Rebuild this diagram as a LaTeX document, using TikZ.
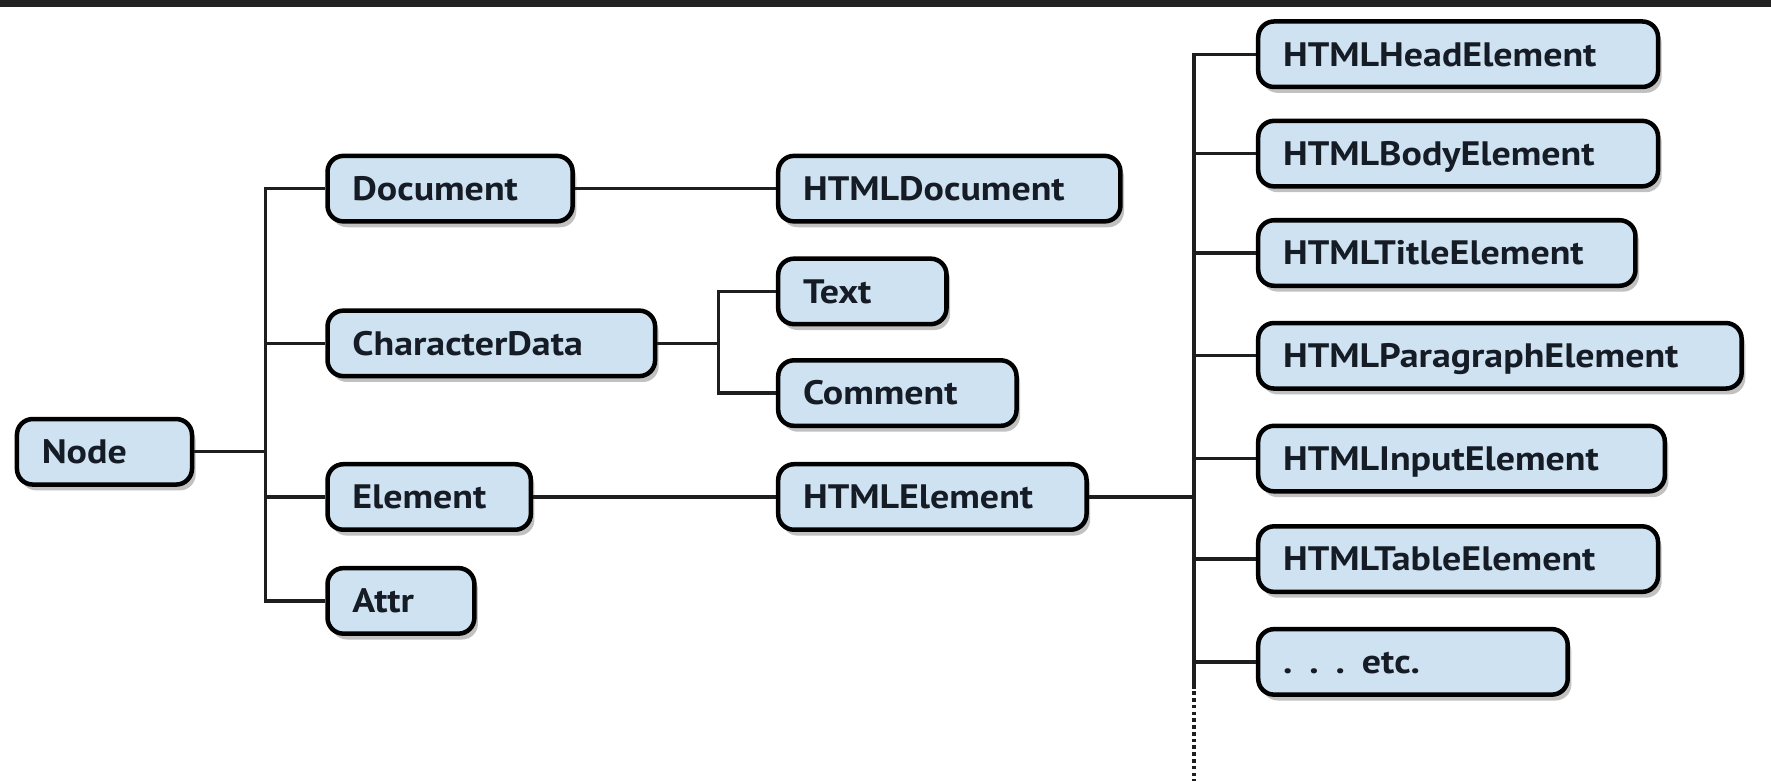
\documentclass[tikz,border=0pt]{standalone}
\usepackage{fontspec}
\setmainfont{PT Sans}[FakeStretch=1.12]
\usetikzlibrary{shadows}
\definecolor{boxfill}{RGB}{206,226,241}
\definecolor{barcol}{RGB}{34,34,34}
\definecolor{linecol}{RGB}{30,30,30}
\definecolor{txtcol}{RGB}{22,28,38}
\begin{document}
\begin{tikzpicture}[x=0.5pt,y=-0.5pt,
  box/.style={draw=black, line width=2pt, rounded corners=7pt, fill=boxfill,
    minimum height=29pt, inner xsep=11pt, inner ysep=0pt, anchor=west,
    text width=#1, align=left,
    font=\fontsize{15}{17}\selectfont\bfseries, text=txtcol,
    text height=1.15em, text depth=0.1em,
    drop shadow={shadow xshift=1.6pt, shadow yshift=-2.6pt, opacity=0.35, fill=black!70}},
  conn/.style={draw=linecol, line width=1.5pt},
  dotline/.style={draw=linecol, line width=2pt, dash pattern=on 1.6pt off 1.4pt}]
\useasboundingbox (0,0) rectangle (1568,691.5);
\fill[barcol] (0,0) rectangle (1568,6.5);
% left column
\node[box=55.5pt] (Node) at (13,400) {Node};
\node[box=86.5pt] (Document) at (288,167) {Document};
\node[box=123pt] (CharacterData) at (288,304) {CharacterData};
\node[box=68pt] (Element) at (288,440) {Element};
\node[box=43pt] (Attr) at (288,532) {Attr};
% middle column
\node[box=129.5pt] (HTMLDocument) at (687,167) {HTMLDocument};
\node[box=52.5pt] (Text) at (687,258) {Text};
\node[box=83.5pt] (Comment) at (687,348) {Comment};
\node[box=114.5pt] (HTMLElement) at (687,440) {HTMLElement};
% right column
\node[box=155pt] (Head) at (1112,48) {HTMLHeadElement};
\node[box=155pt] (Body) at (1112,136) {HTMLBodyElement};
\node[box=145pt] (Title) at (1112,224) {HTMLTitleElement};
\node[box=192pt] (Para) at (1112,315) {HTMLParagraphElement};
\node[box=158pt] (Input) at (1112,406) {HTMLInputElement};
\node[box=155pt] (Table) at (1112,495) {HTMLTableElement};
\node[box=115pt] (Etc) at (1112,586) {. . . etc.};
% trunks
\coordinate (tL) at (235,0);
\coordinate (tC) at (636,0);
\coordinate (tR) at (1057,0);
\coordinate (dotEnd) at (1057,691.5);
% left tree
\draw[conn] (Document.west) -- (Document.west -| tL) -- (Attr.west -| tL) -- (Attr.west);
\draw[conn] (Node.east) -- (Node.east -| tL);
\draw[conn] (CharacterData.west) -- (CharacterData.west -| tL);
\draw[conn] (Element.west) -- (Element.west -| tL);
% middle links
\draw[conn] (Document.east) -- (HTMLDocument.west);
\draw[conn] (Element.east) -- (HTMLElement.west);
\draw[conn] (CharacterData.east) -- (CharacterData.east -| tC);
\draw[conn] (Text.west) -- (Text.west -| tC) -- (Comment.west -| tC) -- (Comment.west);
% right tree
\draw[conn] (Head.west) -- (Head.west -| tR) -- ([yshift=-12pt]Etc.west -| tR);
\draw[conn] (HTMLElement.east) -- (HTMLElement.east -| tR);
\foreach \n in {Body,Title,Para,Input,Table,Etc}{
  \draw[conn] (\n.west) -- (\n.west -| tR);
}
\draw[dotline] ([yshift=-13pt]Etc.west -| tR) -- (dotEnd);
\end{tikzpicture}
\end{document}
